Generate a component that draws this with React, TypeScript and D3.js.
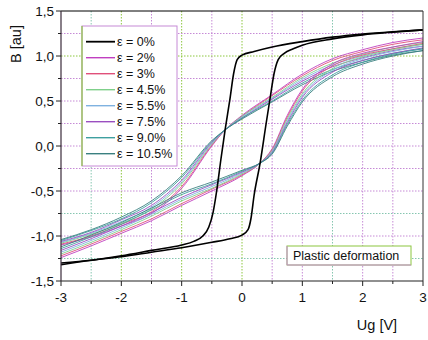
import React from 'react';
import * as d3 from 'd3';

// strain levels and legend colours
const strains = ['ε = 0%', 'ε = 2%', 'ε = 3%', 'ε = 4.5%', 'ε = 5.5%', 'ε = 7.5%', 'ε = 9.0%', 'ε = 10.5%'];
const colors = ['#000000', '#c040c0', '#e0507a', '#7fd08a', '#7fb2e0', '#9a4fc0', '#3fa0a0', '#3a8080'];

// ε = 0% : square loop
const blackUpperX = [-3, -2.5, -2, -1.5, -1, -0.8, -0.65, -0.55, -0.48, -0.42, -0.35, -0.28, -0.2, -0.14, -0.08, 0, 0.2, 0.5, 1, 1.5, 2, 2.5, 3];
const blackUpperY = [-1.30, -1.27, -1.22, -1.16, -1.10, -1.06, -1.0, -0.9, -0.74, -0.5, -0.15, 0.18, 0.52, 0.8, 0.96, 1.01, 1.05, 1.1, 1.16, 1.21, 1.245, 1.27, 1.29];
const blackLowerX = [-3, -2.5, -2, -1.5, -1, -0.5, -0.2, 0, 0.1, 0.15, 0.2, 0.3, 0.4, 0.47, 0.53, 0.6, 0.7, 0.85, 1, 1.5, 2, 2.5, 3];
const blackLowerY = [-1.32, -1.27, -1.23, -1.18, -1.13, -1.07, -1.03, -0.99, -0.93, -0.8, -0.55, -0.19, 0.25, 0.55, 0.8, 0.96, 1.03, 1.08, 1.12, 1.19, 1.235, 1.265, 1.29];

// deformed samples: descending branch
const upperX = [-3, -2.5, -2, -1.5, -1, -0.5, -0.28, 0, 0.5, 1, 1.5, 2, 2.5, 3];
const upper2 = [-1.10, -1.01, -0.89, -0.75, -0.47, 0.00, 0.18, 0.34, 0.57, 0.80, 0.97, 1.07, 1.15, 1.20];
const upper3 = [-1.09, -1.00, -0.87, -0.73, -0.45, 0.01, 0.18, 0.33, 0.56, 0.78, 0.95, 1.05, 1.13, 1.18];
const upper45 = [-1.08, -0.98, -0.86, -0.70, -0.42, 0.02, 0.18, 0.33, 0.54, 0.76, 0.92, 1.02, 1.10, 1.15];
const upper55 = [-1.07, -0.97, -0.84, -0.68, -0.40, 0.03, 0.18, 0.32, 0.53, 0.74, 0.90, 1.00, 1.08, 1.13];
const upper75 = [-1.06, -0.96, -0.82, -0.66, -0.38, 0.04, 0.18, 0.31, 0.52, 0.72, 0.88, 0.98, 1.06, 1.11];
const upper90 = [-1.05, -0.94, -0.81, -0.63, -0.35, 0.05, 0.18, 0.31, 0.50, 0.70, 0.85, 0.95, 1.03, 1.08];
const upper105 = [-1.04, -0.93, -0.79, -0.61, -0.33, 0.06, 0.18, 0.30, 0.49, 0.68, 0.83, 0.93, 1.01, 1.06];

// deformed samples: ascending branch
const lowerX = [-3, -2.5, -2, -1.5, -1, -0.5, 0, 0.3, 0.5, 0.75, 1, 1.5, 2, 2.5, 3];
const lower2 = [-1.24, -1.11, -0.97, -0.83, -0.66, -0.50, -0.33, -0.19, -0.03, 0.34, 0.63, 0.91, 1.03, 1.10, 1.16];
const lower3 = [-1.22, -1.09, -0.95, -0.81, -0.64, -0.48, -0.32, -0.19, -0.04, 0.32, 0.61, 0.89, 1.01, 1.08, 1.14];
const lower45 = [-1.20, -1.07, -0.93, -0.78, -0.61, -0.47, -0.31, -0.19, -0.05, 0.30, 0.58, 0.86, 0.99, 1.07, 1.13];
const lower55 = [-1.18, -1.05, -0.91, -0.76, -0.59, -0.45, -0.30, -0.19, -0.06, 0.28, 0.56, 0.84, 0.97, 1.05, 1.11];
const lower75 = [-1.16, -1.03, -0.89, -0.74, -0.57, -0.43, -0.29, -0.19, -0.07, 0.26, 0.54, 0.82, 0.95, 1.03, 1.09];
const lower90 = [-1.14, -1.01, -0.87, -0.71, -0.54, -0.42, -0.28, -0.19, -0.08, 0.24, 0.51, 0.79, 0.93, 1.02, 1.08];
const lower105 = [-1.12, -0.99, -0.85, -0.69, -0.52, -0.40, -0.27, -0.19, -0.09, 0.22, 0.49, 0.77, 0.91, 1.00, 1.06];

const upperSets = [upper2, upper3, upper45, upper55, upper75, upper90, upper105];
const lowerSets = [lower2, lower3, lower45, lower55, lower75, lower90, lower105];

const xTicks = [-3, -2, -1, 0, 1, 2, 3];
const xMinor = [-2.5, -1.5, -0.5, 0.5, 1.5, 2.5];
const yTicks = [-1.5, -1.0, -0.5, 0.0, 0.5, 1.0, 1.5];
const yMinor = [-1.25, -0.75, -0.25, 0.25, 0.75, 1.25];

const GREEN = '#8cc63f';
const PURPLE = '#c68ad6';
const TEAL = '#86c6b0';
const vGridColor: Record<string, string> = {
  '-2.5': TEAL, '-2': GREEN, '-1.5': PURPLE, '-1': GREEN, '-0.5': PURPLE,
  '0': GREEN, '0.5': PURPLE, '1': PURPLE, '1.5': TEAL, '2': PURPLE, '2.5': PURPLE,
};
const hGridColor: Record<string, string> = {
  '1.25': PURPLE, '1': GREEN, '0.75': PURPLE, '0.5': PURPLE, '0.25': PURPLE, '0': PURPLE,
  '-0.25': PURPLE, '-0.5': PURPLE, '-0.75': TEAL, '-1': PURPLE, '-1.25': TEAL,
};

const W = 428;
const H = 340;
const font = '"Liberation Sans", Arial, sans-serif';

export default function App() {
  const x = d3.scaleLinear().domain([-3, 3]).range([61, 423]);
  const y = d3.scaleLinear().domain([-1.5, 1.5]).range([281, 11]);
  const line = d3.line<[number, number]>()
    .x(d => x(d[0]))
    .y(d => y(d[1]))
    .curve(d3.curveMonotoneX);
  const pts = (xs: number[], ys: number[]) => xs.map((v, i) => [v, ys[i]] as [number, number]);
  const fmtY = (v: number) => d3.format('.1f')(Math.abs(v)).replace('.', ',');

  const vGrid = [...xTicks.slice(1, -1), ...xMinor];
  const hGrid = [...yTicks.slice(1, -1), ...yMinor];

  const [x0, x1] = x.range();
  const [y0, y1] = [y(1.5), y(-1.5)];

  return (
    <svg width={W} height={H} style={{ position: 'absolute', left: 0, top: 0, background: '#fff' }} fontFamily={font}>
      {/* grid */}
      {vGrid.map(v => (
        <line key={'v' + v} x1={x(v)} x2={x(v)} y1={y0} y2={y1}
          stroke={vGridColor[String(v)]} strokeWidth={1} strokeDasharray="1.5,1.5" />
      ))}
      {hGrid.map(v => (
        <line key={'h' + v} x1={x0} x2={x1} y1={y(v)} y2={y(v)}
          stroke={hGridColor[String(v)]} strokeWidth={1} strokeDasharray="1.5,1.5" />
      ))}

      {/* deformed loops */}
      {upperSets.map((ys, i) => (
        <path key={'u' + i} d={line(pts(upperX, ys)) || ''} fill="none" stroke={colors[i + 1]} strokeWidth={0.9} />
      ))}
      {lowerSets.map((ys, i) => (
        <path key={'l' + i} d={line(pts(lowerX, ys)) || ''} fill="none" stroke={colors[i + 1]} strokeWidth={0.9} />
      ))}

      {/* undeformed loop */}
      <path d={line(pts(blackUpperX, blackUpperY)) || ''} fill="none" stroke="#000" strokeWidth={1.6} />
      <path d={line(pts(blackLowerX, blackLowerY)) || ''} fill="none" stroke="#000" strokeWidth={1.6} />

      {/* frame */}
      <line x1={x0} x2={x1} y1={y0} y2={y0} stroke="#000" strokeWidth={1} />
      <line x1={x1} x2={x1} y1={y0} y2={y1} stroke="#333" strokeWidth={1} />
      <line x1={x0} x2={x1} y1={y1} y2={y1} stroke="#222" strokeWidth={1.2} />
      <line x1={x0} x2={x0} y1={y0} y2={y1} stroke="#3a2a3a" strokeWidth={1.2} />

      {/* x ticks */}
      {xTicks.map(v => (
        <g key={'xt' + v}>
          <line x1={x(v)} x2={x(v)} y1={y1} y2={y1 + 5} stroke="#222" />
          <text x={x(v)} y={y1 + 21} textAnchor="middle" fontSize={13.5} fill="#111">{String(v)}</text>
        </g>
      ))}
      {xMinor.map(v => (
        <line key={'xm' + v} x1={x(v)} x2={x(v)} y1={y1} y2={y1 + 3} stroke="#222" />
      ))}

      {/* y ticks */}
      {yTicks.map(v => (
        <g key={'yt' + v}>
          <line x1={x0 - 5} x2={x0} y1={y(v)} y2={y(v)} stroke="#222" />
          <text x={x0 - 7} y={y(v)} dy="0.36em" textAnchor="end" fontSize={13.5} fill="#111">
            {(v < 0 ? '-' : '') + fmtY(v)}
          </text>
        </g>
      ))}
      {yMinor.map(v => (
        <line key={'ym' + v} x1={x0 - 3} x2={x0} y1={y(v)} y2={y(v)} stroke="#222" />
      ))}

      {/* axis titles */}
      <text transform={`translate(16,44) rotate(-90)`} textAnchor="middle" dy="0.36em" fontSize={14.5} fill="#111">B [au]</text>
      <text x={377} y={325} dy="0.36em" textAnchor="middle" fontSize={14.5} fill="#111">Ug [V]</text>

      {/* legend */}
      <g>
        <rect x={82} y={26} width={95} height={140} fill="#fff" stroke={PURPLE} strokeWidth={1} />
        <line x1={82} x2={82} y1={26} y2={166} stroke={GREEN} strokeWidth={1.2} />
        {strains.map((s, i) => (
          <g key={s} transform={`translate(0,${41.7 + i * 16})`}>
            <line x1={86} x2={115} y1={0} y2={0} stroke={colors[i]} strokeWidth={i === 0 ? 1.8 : 1.4} />
            <text x={117} y={0} dy="0.36em" fontSize={12.5} fill="#111">{s}</text>
          </g>
        ))}
      </g>

      {/* annotation */}
      <g>
        <rect x={287} y={246} width={124} height={19} fill="#fff" stroke={GREEN} strokeWidth={1} />
        <line x1={287} x2={287} y1={246} y2={265} stroke={PURPLE} />
        <line x1={287} x2={411} y1={265} y2={265} stroke={PURPLE} />
        <text x={293} y={255.5} dy="0.36em" fontSize={12.5} fill="#111">Plastic deformation</text>
      </g>
    </svg>
  );
}
